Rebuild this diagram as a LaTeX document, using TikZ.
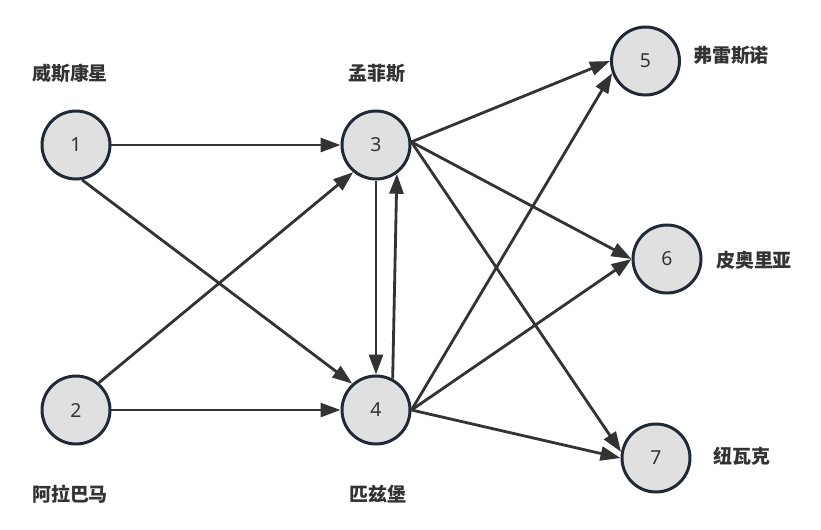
\documentclass[tikz,border=0pt]{standalone}
\usepackage{fontspec}
\setmainfont{Noto Sans}
\newfontfamily\cjk{Noto Sans CJK SC}
\usetikzlibrary{arrows.meta}
\usepackage{xcolor}
\definecolor{cityfill}{HTML}{E0E0E0}
\definecolor{cityline}{HTML}{1F2A36}
\definecolor{edgeline}{HTML}{333333}

\begin{document}
\begin{tikzpicture}[>={Triangle[length=4mm,width=2.8mm]},
  city/.style={circle,draw=cityline,line width=1.7pt,fill=cityfill,minimum size=1.36cm,inner sep=0pt,font=\fontsize{11}{13}\selectfont,text=edgeline},
  citylabel/.style={font=\cjk\bfseries\fontsize{10.8}{12}\selectfont,text=edgeline},
  edge/.style={->,draw=edgeline,line width=1.6pt}]
\useasboundingbox (0,0) rectangle (16.42,-10.58);
\node[city] (wis) at (1.52,-2.90) {1};
\node[city] (ala) at (1.52,-8.20) {2};
\node[city] (mem) at (7.52,-2.90) {3};
\node[city] (pit) at (7.52,-8.20) {4};
\node[city] (fre) at (12.91,-1.22) {5};
\node[city] (peo) at (13.34,-5.18) {6};
\node[city] (new) at (13.12,-9.16) {7};
\node[citylabel] (wisL) at (1.40,-1.46) {威斯康星};
\node[citylabel] (memL) at (7.54,-1.46) {孟菲斯};
\node[citylabel] (alaL) at (1.40,-9.88) {阿拉巴马};
\node[citylabel] (pitL) at (7.56,-9.88) {匹兹堡};
\node[citylabel] (freL) at (14.62,-1.10) {弗雷斯诺};
\node[citylabel] (peoL) at (15.08,-5.20) {皮奥里亚};
\node[citylabel] (newL) at (14.84,-9.12) {纽瓦克};
\draw[edge] (wis.east) -- (mem.west);
\draw[edge] (wis.-80) -- (pit.132);
\draw[edge] (ala.50) -- (mem.230);
\draw[edge] (ala.east) -- (pit.west);
\draw[edge] (mem.south) -- (pit.north);
\draw[edge] (pit.62) -- (mem.-54);
\draw[edge] (mem.5) -- (fre.west);
\draw[edge] (mem.5) -- (peo.west);
\draw[edge] (mem.5) -- (new.170);
\draw[edge] (pit.east) -- (fre.200);
\draw[edge] (pit.east) -- (peo.west);
\draw[edge] (pit.east) -- (new.west);
\end{tikzpicture}
\end{document}
